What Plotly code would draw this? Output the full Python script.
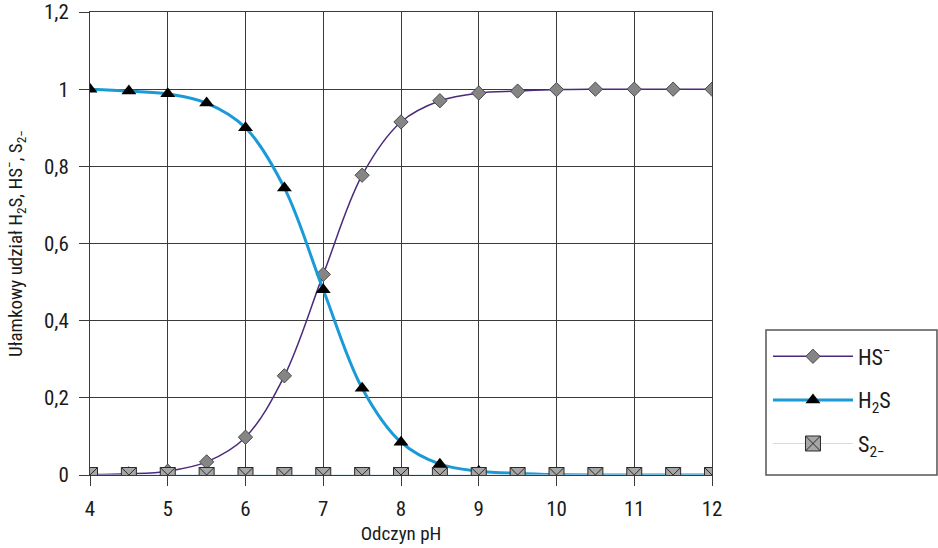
import plotly.graph_objects as go

ph = [4, 4.5, 5, 5.5, 6, 6.5, 7, 7.5, 8, 8.5, 9, 9.5, 10, 10.5, 11, 11.5, 12]
hs = [0.001, 0.003, 0.01, 0.034, 0.098, 0.257, 0.52, 0.777, 0.915, 0.97, 0.99, 0.995, 0.999, 1.0, 1.0, 1.0, 1.0]
h2s = [1.0, 0.995, 0.988, 0.964, 0.90, 0.744, 0.48, 0.225, 0.085, 0.028, 0.01, 0.004, 0.001, 0.0, 0.0, 0.0, 0.0]
s2 = [0.0] * 17

y_ticks = [0, 0.2, 0.4, 0.6, 0.8, 1.0, 1.2]
y_ticktext = ["0", "0,2", "0,4", "0,6", "0,8", "1", "1,2"]
x_ticks = [4, 5, 6, 7, 8, 9, 10, 11, 12]

FONT = "Liberation Sans Narrow, Roboto Condensed, Arial Narrow, Liberation Sans, sans-serif"

fig = go.Figure()
fig.add_trace(go.Scatter(
    x=ph, y=hs, name="HS<sup>−</sup>", mode="lines+markers", legendgroup="a",
    line=dict(color="#4a2a7c", width=1.5, shape="spline"),
    marker=dict(symbol="diamond", size=11, color="#858585", line=dict(color="#4a4a4a", width=1)),
))
fig.add_trace(go.Scatter(
    x=ph, y=h2s, name="H<sub>2</sub>S", mode="lines+markers", legendgroup="b",
    line=dict(color="#1a9ad6", width=3, shape="spline"),
    marker=dict(symbol="triangle-up", size=13, color="#000000"),
))
fig.add_trace(go.Scatter(
    x=ph, y=s2, name="S<sub>2−</sub>", mode="lines+markers", legendgroup="c",
    line=dict(color="#c8e0ee", width=1.2),
    marker=dict(symbol="square-x", size=15, color="#a6a6a6", line=dict(color="#2a2a2a", width=1)),
))

# legend frame drawn as a rectangle in paper coordinates
fig.add_shape(type="rect", xref="paper", yref="paper",
              x0=1.0868, x1=1.3617, y0=0.0, y1=0.3132,
              line=dict(color="#555555", width=1.5), fillcolor="rgba(0,0,0,0)", layer="above")

fig.update_layout(
    width=938, height=548,
    margin=dict(l=90, r=226, t=12, b=73),
    paper_bgcolor="white", plot_bgcolor="white",
    font=dict(family=FONT, size=21, color="#1a1a1a"),
    showlegend=True,
    legend=dict(
        x=1.09, y=0.162, xanchor="left", yanchor="middle",
        borderwidth=0, bgcolor="rgba(0,0,0,0)",
        font=dict(size=22), tracegroupgap=12,
        itemwidth=80,
    ),
    xaxis=dict(
        range=[4, 12], tickvals=x_ticks, showgrid=True, gridcolor="#3a3a3a", gridwidth=1,
        showline=True, linecolor="#3a3a3a", mirror=True, ticks="outside", ticklen=10,
        tickcolor="#3a3a3a", zeroline=False, automargin=False, ticklabelstandoff=5,
        title=dict(text="Odczyn pH", standoff=6, font=dict(size=19)),
    ),
    yaxis=dict(
        range=[0, 1.2], tickvals=y_ticks, ticktext=y_ticktext, showgrid=True,
        gridcolor="#3a3a3a", gridwidth=1, showline=True, linecolor="#3a3a3a", mirror=True,
        ticks="outside", ticklen=10, tickcolor="#3a3a3a", zeroline=False, automargin=False,
        ticklabelstandoff=6,
        title=dict(text="Ułamkowy udział H<sub>2</sub>S, HS<sup>−</sup>, S<sub>2−</sub>", standoff=16, font=dict(size=19)),
    ),
)

fig.write_html("out.html")
